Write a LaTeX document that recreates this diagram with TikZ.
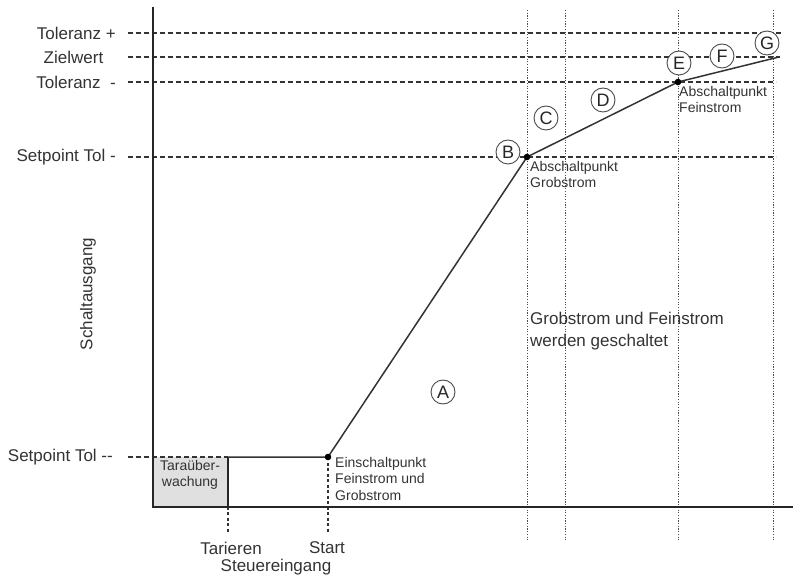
\documentclass[tikz,border=0pt]{standalone}
\usepackage{fontspec}
\setmainfont{Liberation Sans}
\usetikzlibrary{positioning}

\tikzset{
	guide/.style={dash pattern=on 5pt off 3pt, line width=1.3pt, draw=black!80},
	gridline/.style={dash pattern=on 1.2pt off 1.5pt, line width=1pt, draw=black!70},
	tick/.style={dash pattern=on 3pt off 2.5pt, line width=1.1pt, draw=black!80},
	axis/.style={line width=2pt, draw=black!85},
	curve/.style={line width=1.5pt, draw=black!80},
	marker/.style={circle, draw=black!70, fill=white, line width=0.9pt, minimum size=24pt, inner sep=0pt, text=black!85, font=\fontsize{18}{18}\selectfont},
	lbl/.style={font=\fontsize{17}{20}\selectfont, text=black!80, inner sep=0pt},
	note/.style={font=\fontsize{14}{16.5}\selectfont, text=black!80, inner sep=0pt, align=left, anchor=north west},
}

\begin{document}
\begin{tikzpicture}[x=1pt,y=-1pt]
	\useasboundingbox (0,0) rectangle (793,577);

	% Achsen und Punkte
	\coordinate (origin) at (153,507);
	\coordinate (ytop)   at (153,7);
	\coordinate (xend)   at (793,507);
	\coordinate (einpkt) at (328,457);
	\coordinate (grobpkt) at (527,157);
	\coordinate (feinpkt) at (678,82);
	\coordinate (endpkt) at (779,57);
	\coordinate (tarpkt) at (228,457);

	% Taraueberwachung
	\fill[black!12] (153,457) rectangle (228,507);

	% Hilfslinien
	\draw[guide] (128,33)  -- (783,33);
	\draw[guide] (128,57)  -- (780,57);
	\draw[guide] (128,82)  -- (776,82);
	\draw[guide] (128,157) -- (776,157);
	\draw[guide] (128,457) -- (tarpkt);

	\draw[gridline] (527,10) -- (527,540);
	\draw[gridline] (565,10) -- (565,540);
	\draw[gridline] (678,10) -- (678,540);
	\draw[gridline] (773,10) -- (773,540);

	\draw[tick] (tarpkt) -- (228,533);
	\draw[tick] (einpkt) -- (328,533);

	% Verlauf
	\draw[line width=1.3pt, black!85] (tarpkt) -- (228,507);
	\draw[curve] (tarpkt) -- (einpkt) -- (grobpkt) -- (feinpkt) -- (endpkt);
	\draw[axis] (ytop) -- (origin) -- (xend);
	\fill[black] (einpkt) circle (3.3);
	\fill[black] (grobpkt) circle (3.3);
	\fill[black] (feinpkt) circle (3.3);

	% Phasen
	\node[marker] (A) at (443,392) {A};
	\node[marker] (B) at (508,152) {B};
	\node[marker] (C) at (546,118) {C};
	\node[marker] (D) at (603,100) {D};
	\node[marker] (E) at (679,63)  {E};
	\node[marker] (F) at (722,56)  {F};
	\node[marker] (G) at (767,43)  {G};

	% Beschriftung
	\node[lbl, anchor=east] (tolplus)  at (116,33)  {Toleranz +};
	\node[lbl]              (zielwert) at (73.5,57) {Zielwert};
	\node[lbl, anchor=east] (tolminus) at (116,82)  {Toleranz\ \ -};
	\node[lbl, anchor=east] (sptolm)   at (116,157) {Setpoint Tol -};
	\node[lbl, anchor=east] (sptolmm)  at (113,457) {Setpoint Tol {-}{-}};
	\node[lbl, rotate=90]   (schalt)   at (88,294)  {Schaltausgang};
	\node[lbl]              (tarieren) at (231,548) {Tarieren};
	\node[lbl]              (start)    at (327,548) {Start};
	\node[lbl]              (steuer)   at (276,567) {Steuereingang};

	\node[note, align=center, anchor=north] (tara) at (190,460) {Taraüber-\\wachung};
	\node[note] (ein)  at (335,457) {Einschaltpunkt\\Feinstrom und\\Grobstrom};
	\node[note] (abgrob) at (530,161) {Abschaltpunkt\\Grobstrom};
	\node[note] (abfein) at (679,86)  {Abschaltpunkt\\Feinstrom};
	\node[note, font=\fontsize{17}{22}\selectfont] (beide) at (530,312) {Grobstrom und Feinstrom\\werden geschaltet};
\end{tikzpicture}
\end{document}
